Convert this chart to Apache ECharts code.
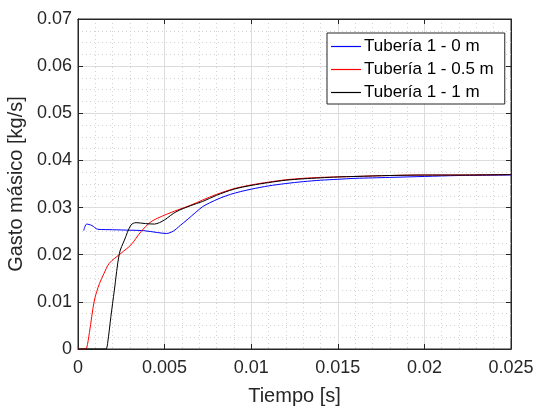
<!DOCTYPE html>
<html><head><meta charset="utf-8">
<script src="https://cdn.jsdelivr.net/npm/echarts@6/dist/echarts.min.js"></script>
<style>html,body{margin:0;padding:0;background:#fff}#c{width:537px;height:409px}</style>
</head><body><div id="c"></div>
<script>
var xTicks = [0, 0.005, 0.01, 0.015, 0.02, 0.025];
var yTicks = [0, 0.01, 0.02, 0.03, 0.04, 0.05, 0.06, 0.07];
var seriesNames = ['Tubería 1 - 0 m', 'Tubería 1 - 0.5 m', 'Tubería 1 - 1 m'];
var seriesColors = ['#0000ff', '#ff0000', '#000000'];

var tBlue = [0.00033,0.0005,0.0008,0.00114,0.002,0.003,0.0038,0.0046,0.0051,0.0055,0.0059,0.0063,0.0068,0.0072,0.0076,0.0082,0.0088,0.0094,0.01,0.011,0.012,0.013,0.014,0.015,0.016,0.017,0.018,0.02,0.022,0.025];
var yBlue = [0.0251,0.0265,0.0262,0.0254,0.0253,0.0252,0.0251,0.0247,0.0245,0.0250,0.0262,0.0274,0.0290,0.0302,0.0310,0.0320,0.0328,0.0334,0.0339,0.0346,0.0351,0.0355,0.0358,0.0360,0.0362,0.0363,0.0364,0.0366,0.0368,0.0369];

var tRed = [0,0.0004,0.0005,0.00066,0.00095,0.00124,0.0015,0.00181,0.00248,0.00306,0.00364,0.00422,0.005,0.00576,0.0065,0.0072,0.008,0.009,0.01,0.011,0.012,0.013,0.014,0.015,0.016,0.018,0.02,0.022,0.025];
var yRed = [0,0,0.0002,0.0035,0.0104,0.0139,0.0160,0.0182,0.0203,0.0221,0.0249,0.0270,0.0284,0.0295,0.0305,0.0316,0.0328,0.0340,0.0348,0.0354,0.0359,0.0362,0.0364,0.0365,0.0366,0.0368,0.0369,0.0369,0.0370];

var tBlack = [0,0.0015,0.00162,0.00171,0.0019,0.0021,0.00239,0.00268,0.00306,0.00335,0.0039,0.00441,0.0047,0.005,0.00566,0.0065,0.0072,0.008,0.009,0.01,0.011,0.012,0.013,0.014,0.015,0.016,0.018,0.02,0.022,0.025];
var yBlack = [0,0,0,0.0012,0.0069,0.0125,0.0203,0.0231,0.0263,0.0268,0.0266,0.0265,0.0268,0.0274,0.0291,0.0304,0.0313,0.0326,0.0339,0.0347,0.0353,0.0358,0.0361,0.0363,0.0365,0.0366,0.0368,0.0369,0.0369,0.0370];

function pairs(t, y) { return t.map(function (v, i) { return [v, y[i]]; }); }
function fmt(v) { return String(+v.toFixed(4)); }

var FONT = 'Liberation Sans, Arial, Helvetica, sans-serif';
var AX = '#262626';
var MINOR = {show: true, lineStyle: {color: '#d2d2d2', width: 1, type: [1, 3]}};
var chart = echarts.init(document.getElementById('c'), null, {renderer: 'canvas'});
var option = {
  animation: false,
  backgroundColor: '#fff',
  grid: {left: 78, right: 26, top: 19, bottom: 60, containLabel: false, outerBoundsMode: 'none',
         show: true, borderColor: AX, borderWidth: 1, backgroundColor: 'transparent'},
  legend: {
    orient: 'vertical', left: 327, top: 33, padding: [5, 11, 3, 4],
    itemWidth: 30, itemHeight: 10, itemGap: 6,
    backgroundColor: '#fff', borderColor: AX, borderWidth: 1, borderRadius: 0,
    textStyle: {fontFamily: FONT, fontSize: 17, color: '#000', padding: [0, 0, 0, -2]},
    data: seriesNames.map(function (n, i) {
      return {name: n, icon: 'path://M0,4.4 L30,4.4 L30,5.6 L0,5.6 Z',
              itemStyle: {color: seriesColors[i], borderWidth: 0}};
    })
  },
  xAxis: [
    {
      type: 'value', min: 0, max: 0.025, interval: 0.005, position: 'bottom',
      axisLine: {show: true, onZero: false, lineStyle: {color: AX, width: 1}},
      axisTick: {show: true, inside: true, length: 5, lineStyle: {color: AX}},
      minorTick: {show: false, splitNumber: 5},
      splitLine: {show: true, lineStyle: {color: '#dcdcdc', width: 1}},
      minorSplitLine: MINOR,
      axisLabel: {show: true, fontFamily: FONT, fontSize: 18, color: AX, margin: 10, formatter: fmt},
      name: 'Tiempo [s]', nameLocation: 'middle', nameGap: 37,
      nameTextStyle: {fontFamily: FONT, fontSize: 20, color: AX}
    },
    {
      type: 'value', min: 0, max: 0.025, interval: 0.005, position: 'top',
      axisLine: {show: true, onZero: false, lineStyle: {color: AX, width: 1}},
      axisTick: {show: true, inside: true, length: 5, lineStyle: {color: AX}},
      axisLabel: {show: false}, splitLine: {show: false}
    }
  ],
  yAxis: [
    {
      type: 'value', min: 0, max: 0.07, interval: 0.01, position: 'left',
      axisLine: {show: true, onZero: false, lineStyle: {color: AX}},
      axisTick: {show: true, inside: true, length: 5, lineStyle: {color: AX}},
      minorTick: {show: false, splitNumber: 4},
      splitLine: {show: true, lineStyle: {color: '#dcdcdc', width: 1}},
      minorSplitLine: MINOR,
      axisLabel: {fontFamily: FONT, fontSize: 18, color: AX, margin: 6, formatter: fmt},
      name: 'Gasto másico [kg/s]', nameLocation: 'middle', nameGap: 45, nameRotate: 90,
      nameTextStyle: {fontFamily: FONT, fontSize: 20, color: AX}
    },
    {
      type: 'value', min: 0, max: 0.07, interval: 0.01, position: 'right',
      axisLine: {show: true, onZero: false, lineStyle: {color: AX}},
      axisTick: {show: true, inside: true, length: 5, lineStyle: {color: AX}},
      splitLine: {show: false}, axisLabel: {show: false}
    }
  ],
  series: [
    {name: seriesNames[0], type: 'line', data: pairs(tBlue, yBlue), showSymbol: false, smooth: 0.3,
     lineStyle: {color: seriesColors[0], width: 1}, itemStyle: {color: seriesColors[0]}, z: 3},
    {name: seriesNames[1], type: 'line', data: pairs(tRed, yRed), showSymbol: false, smooth: 0.3,
     lineStyle: {color: seriesColors[1], width: 1}, itemStyle: {color: seriesColors[1]}, z: 4},
    {name: seriesNames[2], type: 'line', data: pairs(tBlack, yBlack), showSymbol: false, smooth: 0.3,
     lineStyle: {color: seriesColors[2], width: 1}, itemStyle: {color: seriesColors[2]}, z: 5}
  ]
};
chart.setOption(option);
</script>
</body></html>
